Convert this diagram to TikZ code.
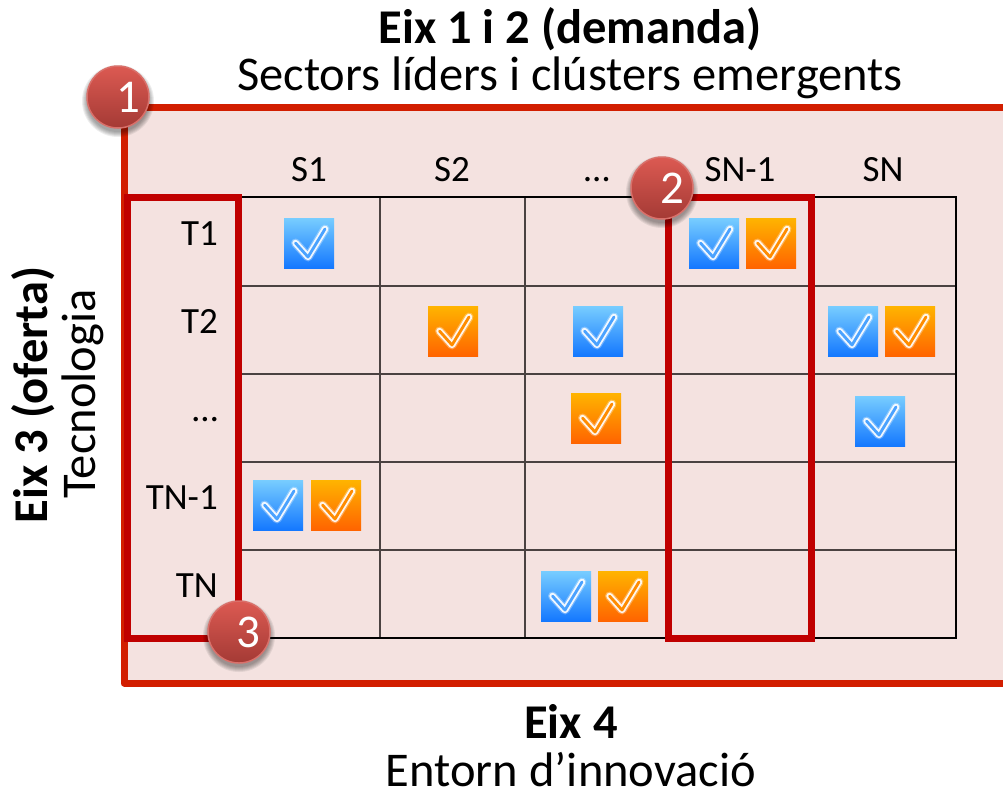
\documentclass[tikz,border=0pt]{standalone}
\usepackage{fontspec}
\setmainfont{Carlito}
\definecolor{panelfill}{HTML}{F4E2E0}
\definecolor{outerred}{HTML}{D21E00}
\definecolor{innerred}{HTML}{C00000}
\definecolor{gridgray}{HTML}{4A4241}
\definecolor{blueA}{HTML}{78CDFF}
\definecolor{blueB}{HTML}{1478FF}
\definecolor{blueM}{HTML}{4AA2FF}
\definecolor{orangeA}{HTML}{FFB400}
\definecolor{orangeB}{HTML}{FF6400}
\definecolor{orangeM}{HTML}{FF8C00}
\definecolor{badgeA}{HTML}{DC5A52}
\definecolor{badgeB}{HTML}{A43A35}
\definecolor{badgeEdge}{HTML}{D9706A}
\tikzset{
  x=1pt,y=-1pt,
  title/.style={inner sep=0pt,anchor=base,text=black,font=\fontsize{48.5}{52}\selectfont\bfseries},
  subtitle/.style={inner sep=0pt,anchor=base,text=black,font=\fontsize{48.5}{52}\selectfont},
  axis/.style={inner sep=0pt,anchor=base,text=black,font=\fontsize{37}{40}\selectfont},
  outerline/.style={draw=outerred,line width=7pt,line join=round},
  innerline/.style={draw=innerred,line width=7pt,line join=miter},
  gridthin/.style={draw=gridgray,line width=1.3pt},
  gridthick/.style={draw=black,line width=2pt},
  badge/.style={circle,minimum size=62pt,inner sep=0pt,draw=badgeEdge,line width=1.5pt,
     top color=badgeA,bottom color=badgeB,text=white,font=\fontsize{47}{50}\selectfont},
}
% icon: centre x, centre y, colour stem
\newcommand{\tickicon}[3]{%
  \begin{scope}[shift={(#1,#2)}]
    \shade[top color=#3A,bottom color=#3B,shading angle=0] (-25,-25) rectangle (25,25);
    \draw[white,opacity=.3,line width=9pt,line cap=round,line join=round] (-13.5,0) -- (-1,14) -- (16,-14);
    \draw[white,opacity=.9,line width=6.5pt,line cap=round,line join=round] (-13.5,0) -- (-1,14) -- (16,-14);
    \draw[#3M,line width=2.8pt,line cap=round,line join=round] (-13.5,0) -- (-1,14) -- (16,-14);
  \end{scope}}
\newcommand{\badgeshadow}[2]{%
  \foreach \r in {36,35,34,33,32,31}{\fill[black,opacity=.07] (#1,#2+4) circle (\r);}}
\begin{document}
\begin{tikzpicture}
\useasboundingbox (0,0) rectangle (1003,788);
\begin{scope}
\clip (0,0) rectangle (1003,788);
% outer panel
\path[fill=panelfill] (124,107) rectangle (1020,683);
\draw[outerline] (1020,107) -- (124,107) -- (124,683) -- (1020,683);
% grid
\foreach \y in {286,374,462,550}{\draw[gridthin] (240,\y) -- (956,\y);}
\foreach \x in {380,525}{\draw[gridthin] (\x,197) -- (\x,638);}
\draw[gridthick] (240,197) -- (956,197) -- (956,638) -- (240,638);
% highlight boxes
\draw[innerline] (127,197) rectangle (238,638);
\draw[innerline] (668,197) rectangle (811,638);
% ticks
\tickicon{309}{243}{blue}
\tickicon{714}{243}{blue}
\tickicon{771}{243}{orange}
\tickicon{453}{331}{orange}
\tickicon{598}{331}{blue}
\tickicon{853}{331}{blue}
\tickicon{910}{331}{orange}
\tickicon{596}{418}{orange}
\tickicon{880}{421}{blue}
\tickicon{278}{505}{blue}
\tickicon{336}{505}{orange}
\tickicon{566}{596}{blue}
\tickicon{623}{596}{orange}
\end{scope}
% titles
\node[title] (t1) at (570,43) {Eix 1 i 2 (demanda)};
\node[subtitle] (t2) at (570,90) {Sectors líders i clústers emergents};
\node[title] (t3) at (571,738) {Eix 4};
\node[subtitle] (t4) at (571,786) {Entorn d’innovació};
\node[title,rotate=90] (t5) at (47,395) {Eix 3 (oferta)};
\node[subtitle,rotate=90] (t6) at (95,394) {Tecnologia};
% column labels
\node[axis] (s1) at (309,181) {S1};
\node[axis] (s2) at (452,181) {S2};
\node[axis] (s3) at (597,181) {…};
\node[axis] (s4) at (740,181) {SN-1};
\node[axis] (s5) at (883,181) {SN};
% row labels
\node[axis,anchor=base east] (r1) at (218,245) {T1};
\node[axis,anchor=base east] (r2) at (218,333) {T2};
\node[axis,anchor=base east] (r3) at (218,421) {…};
\node[axis,anchor=base east] (r4) at (218,509) {TN-1};
\node[axis,anchor=base east] (r5) at (218,597) {TN};
% badges
\badgeshadow{118}{97}
\badgeshadow{662}{188}
\badgeshadow{239}{632}
\node[badge] (b1) at (118,97) {\raisebox{-5pt}{\hspace{20pt}1}};
\node[badge] (b2) at (662,188) {\raisebox{-4pt}{\hspace{20pt}2}};
\node[badge] (b3) at (239,632) {\raisebox{-4pt}{\hspace{18pt}3}};
\end{tikzpicture}
\end{document}
